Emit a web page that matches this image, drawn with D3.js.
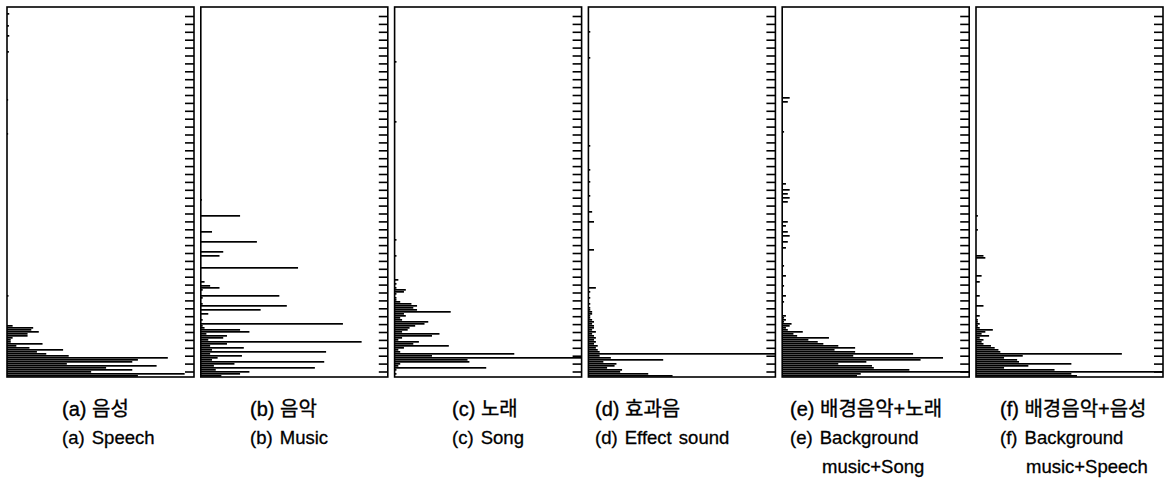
<!DOCTYPE html>
<html><head><meta charset="utf-8">
<script src="https://cdn.jsdelivr.net/npm/d3@7"></script>
<style>body{margin:0;background:#fff}svg{display:block}</style>
</head><body>
<svg id="chart" width="1166" height="484"></svg>
<script>
// ---- data: histogram bins counted from the bottom of each panel (bin 0 = lowest) ----
const speech   = [70, 95, 45, 67, 53, 80, 32, 67, 70, 86, 33, 21, 16, 30, 12, 5, 19, 2, 2, 3, 11, 11, 17, 13, 14, 3];
const speechMarks = [[181,1.2],[175,1],[170,1.2],[162,1],[138,0.6],[121,0.6],[40,0.8]];

const music    = [11, 21, 26, 8, 61, 7, 18, 66, 6, 9, 22, 5, 67, 6, 23, 5, 14, 86, 4, 12, 14, 3, 26, 21, 2, 1, 76, 0, 1, 0,
                  0, 4, 0, 32, 0, 46, 1, 0, 0, 1, 42, 0, 0, 1, 10, 5, 0, 2, 0, 0, 0, 0, 0, 0, 52, 0, 0, 0, 0, 0,
                  10, 0, 12, 0, 0, 0, 0, 30, 0, 0, 0, 0, 6, 0, 0, 0, 0, 0, 0, 0, 21];
const musicMarks = [[88,0.6]];

const song     = [0, 1, 0, 1, 49, 2, 3, 40, 39, 100, 20, 64, 3, 2, 5, 29, 10, 13, 2, 4, 20, 24, 4, 7, 8, 11, 16, 18, 4, 3,
                  6, 5, 30, 12, 10, 12, 9, 3, 1, 1, 0, 1, 5, 6, 1, 0, 1, 0, 2];
const songMarks = [[60,1],[68,1],[127,1],[157,1]];

const effect   = [45, 32, 17, 18, 10, 14, 15, 8, 40, 12, 6, 100, 6, 5, 4, 5, 3, 4, 3, 4, 3, 2, 4, 2, 3, 3, 2, 3, 2, 1,
                  1, 2, 2, 1, 1, 0, 1, 0, 0, 1, 0, 0, 1, 0, 4];
const effectMarks = [[63,3],[77,3],[82,2],[90,1],[97,1],[103,1],[115,1],[159,1],[172,1]];

const bgSong   = [40, 42, 100, 68, 49, 48, 30, 45, 74, 86, 38, 70, 39, 28, 39, 30, 22, 19, 14, 25, 8, 6, 11, 3, 2, 4, 5, 1, 2, 1, 2];
const bgSongMarks = [[37,1],[40,2],[45,1],[50,2],[55,1],[64,2],[67,3],[70,4],[72,3],[75,2],[77,3],[87,3],[89,4],[91,3],[93,4],[96,2],[122,1],[137,3],[139,4]];

const bgSpeech = [54, 51, 100, 42, 15, 28, 51, 23, 22, 15, 25, 78, 13, 12, 10, 8, 4, 3, 4, 2, 7, 3, 5, 9, 2, 1, 2, 1, 1, 0, 2];
const bgSpeechMarks = [[35,4],[40,2],[47,2],[50,3],[59,5],[60,4],[73,1],[80,1]];

const captionsKo = ["(a) 음성", "(b) 음악", "(c) 노래", "(d) 효과음", "(e) 배경음악+노래", "(f) 배경음악+음성"];
const captionsEn = ["(a) Speech", "(b) Music", "(c) Song", "(d) Effect sound", "(e) Background", "(f) Background"];
const captionsEn2 = ["", "", "", "", "music+Song", "music+Speech"];

const binCount = 185;      // number of histogram bins along the height
const valueMax = 100;      // full panel width
const tickValuesRight = d3.range(0, 46);

// ---- layout ----
const svg = d3.select("#chart");
const panelSeries = [[speech, speechMarks],[music, musicMarks],[song, songMarks],[effect, effectMarks],[bgSong, bgSongMarks],[bgSpeech, bgSpeechMarks]];
const panelLeft0 = 7, panelStep = 193.8, panelW = 187, panelTop = 7, panelBottom = 377;
const capX = [62, 250, 452, 595, 790, 1000];
const cap2X = [0, 0, 0, 0, 822, 1026];
const font = "'Liberation Sans', 'Noto Sans CJK KR', sans-serif";

panelSeries.forEach(([dense, marks], i) => {
  const left = panelLeft0 + i * panelStep, right = left + panelW;
  const y = d3.scaleLinear().domain([0, binCount]).range([panelBottom, panelTop]);
  const x = d3.scaleLinear().domain([0, valueMax]).range([left, right]);
  const bins = dense.map((v, k) => ({k, v})).concat(marks.map(([k, v]) => ({k, v}))).filter(d => d.v > 0);
  const g = svg.append("g");
  g.selectAll("rect.bar").data(bins).join("rect")
    .attr("class", "bar")
    .attr("x", x(0))
    .attr("y", d => y(d.k + 1))
    .attr("width", d => x(d.v) - x(0))
    .attr("height", d => (y(d.k) - y(d.k + 1)) * 0.85)
    .attr("fill", "#000");

  const ty = d3.scaleLinear().domain([0, 45]).range([panelTop + 9, panelBottom - 5.5]);
  const ax = g.append("g").attr("transform", `translate(${right},0)`)
    .call(d3.axisLeft(ty).tickValues(tickValuesRight).tickSize(9).tickFormat(""));
  ax.select(".domain").remove();
  ax.selectAll("line").attr("stroke", "#000").attr("stroke-width", 1.6);

  g.append("rect").attr("x", left).attr("y", panelTop).attr("width", panelW).attr("height", panelBottom - panelTop)
    .attr("fill", "none").attr("stroke", "#000").attr("stroke-width", 1.6);

  g.append("text").attr("x", capX[i]).attr("y", 416).text(captionsKo[i])
    .attr("font-family", font).attr("font-size", 20).attr("fill", "#000")
    .attr("stroke", "#000").attr("stroke-width", 0.35);
  g.append("text").attr("x", capX[i]).attr("y", 444).text(captionsEn[i])
    .attr("font-family", font).attr("font-size", 18.5).attr("fill", "#000")
    .attr("stroke", "#000").attr("stroke-width", 0.3).attr("word-spacing", 2);
  if (captionsEn2[i]) g.append("text").attr("x", cap2X[i]).attr("y", 473).text(captionsEn2[i])
    .attr("font-family", font).attr("font-size", 18.5).attr("fill", "#000")
    .attr("stroke", "#000").attr("stroke-width", 0.3);
});
</script>
</body></html>
